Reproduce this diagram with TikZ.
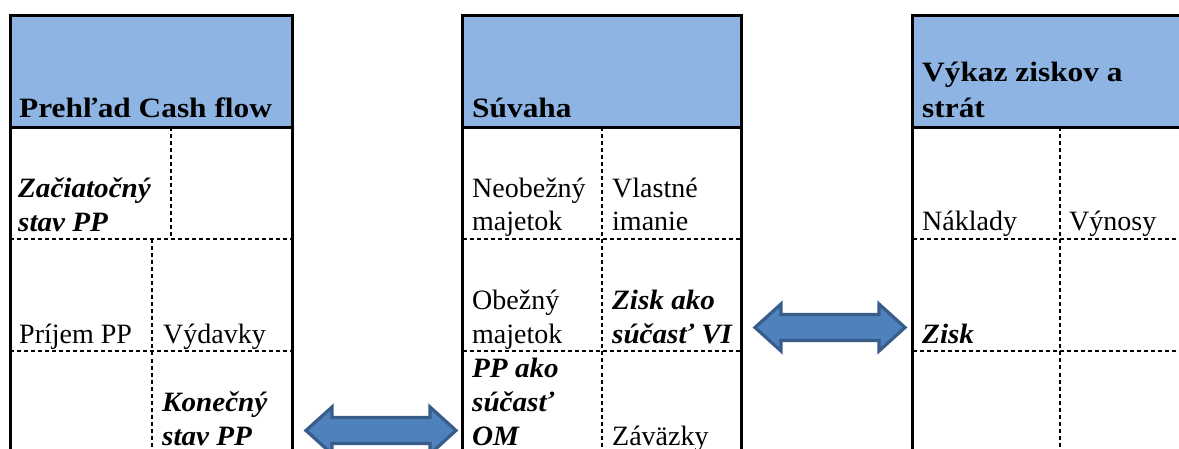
\documentclass[tikz,border=0pt]{standalone}
\usepackage{fontspec}
\setmainfont{Liberation Serif}[BoldFeatures={FakeStretch=1.12}, BoldItalicFeatures={FakeStretch=1.04}]
\usepackage{xcolor}
\usetikzlibrary{positioning}

\definecolor{hdrblue}{HTML}{8EB4E3}
\definecolor{arrfill}{HTML}{4F81BD}
\definecolor{arrline}{HTML}{385D8A}

\begin{document}
\begin{tikzpicture}[
    x=1pt, y=-1pt,
    frame/.style={line width=3pt, line cap=rect},
    grid/.style={line width=2pt, dash pattern=on 4pt off 3pt},
    hdr/.style={fill=hdrblue},
    cell/.style={anchor=base west, inner sep=0pt, align=left, font=\fontsize{28}{33.5}\selectfont},
    bcell/.style={cell, font=\fontsize{28}{36}\selectfont\bfseries},
    icell/.style={cell, font=\fontsize{28}{34}\selectfont\bfseries\itshape},
    blockarr/.style={draw=arrline, fill=arrfill, line width=3.2pt, line join=miter}
  ]
  \useasboundingbox (0,0) rectangle (1179,449);
  \clip (0,0) rectangle (1179,449);

  % Header fills
  \fill[hdr] (10,15.5) rectangle (292.5,127.5);
  \fill[hdr] (462.5,15.5) rectangle (741.7,127.5);
  \fill[hdr] (912.5,15.5) rectangle (1185,127.5);

  % Dashed grid: Prehlad Cash flow
  \draw[grid] (10,239.5) -- (292.5,239.5);
  \draw[grid] (10,350.7) -- (292.5,350.7);
  \draw[grid] (171,127.5) -- (171,239.5);
  \draw[grid] (151.7,239.5) -- (151.7,460);

  % Dashed grid: Suvaha
  \draw[grid] (462.5,239.5) -- (741.7,239.5);
  \draw[grid] (462.5,350.7) -- (741.7,350.7);
  \draw[grid] (602,127.5) -- (602,460);

  % Dashed grid: Vykaz ziskov a strat
  \draw[grid] (912.5,239.5) -- (1185,239.5);
  \draw[grid] (912.5,350.7) -- (1185,350.7);
  \draw[grid] (1060,127.5) -- (1060,460);

  % Frames
  \draw[frame] (10,460) |- (292.5,15.5) -- (292.5,460);
  \draw[frame] (10,127.5) -- (292.5,127.5);
  \draw[frame] (462.5,460) |- (741.7,15.5) -- (741.7,460);
  \draw[frame] (462.5,127.5) -- (741.7,127.5);
  \draw[frame] (912.5,460) |- (1185,15.5);
  \draw[frame] (912.5,127.5) -- (1185,127.5);

  % Prehlad Cash flow
  \node[bcell] (cfhead) at (19,118) {Prehľad Cash flow};
  \node[icell] (cfstart) at (18,231.5) {Začiatočný\\stav PP};
  \node[cell] (cfin) at (19,343) {Príjem PP};
  \node[cell] (cfout) at (163,343) {Výdavky};
  \node[icell] (cfend) at (162,445) {Konečný\\stav PP};

  % Suvaha
  \node[bcell] (bshead) at (472,118) {Súvaha};
  \node[cell] (bsfix) at (472,231) {Neobežný\\majetok};
  \node[cell] (bseq) at (612,231) {Vlastné\\imanie};
  \node[cell] (bscur) at (472,343) {Obežný\\majetok};
  \node[icell] (bsprofit) at (612,343) {Zisk ako\\súčasť VI};
  \node[icell] (bscash) at (472,445) {PP ako\\súčasť\\OM};
  \node[cell] (bsdebt) at (612,445) {Záväzky};

  % Vykaz ziskov a strat
  \node[bcell] (pnlhead) at (922,117.5) {Výkaz ziskov a\\strát};
  \node[cell] (pnlcost) at (922,231) {Náklady};
  \node[cell] (pnlrev) at (1069,231) {Výnosy};
  \node[icell] (pnlprofit) at (922,343) {Zisk};

  % Block arrows
  \draw[blockarr] (306,430.5) -- ++(26,-23.5) -- ++(0,10.5) -- ++(98,0) -- ++(0,-10.5)
    -- ++(26,23.5) -- ++(-26,23.5) -- ++(0,-10.5) -- ++(-98,0) -- ++(0,10.5) -- cycle;
  \draw[blockarr] (755,327.5) -- ++(26,-23.5) -- ++(0,10.5) -- ++(98,0) -- ++(0,-10.5)
    -- ++(26,23.5) -- ++(-26,23.5) -- ++(0,-10.5) -- ++(-98,0) -- ++(0,10.5) -- cycle;

\end{tikzpicture}
\end{document}
